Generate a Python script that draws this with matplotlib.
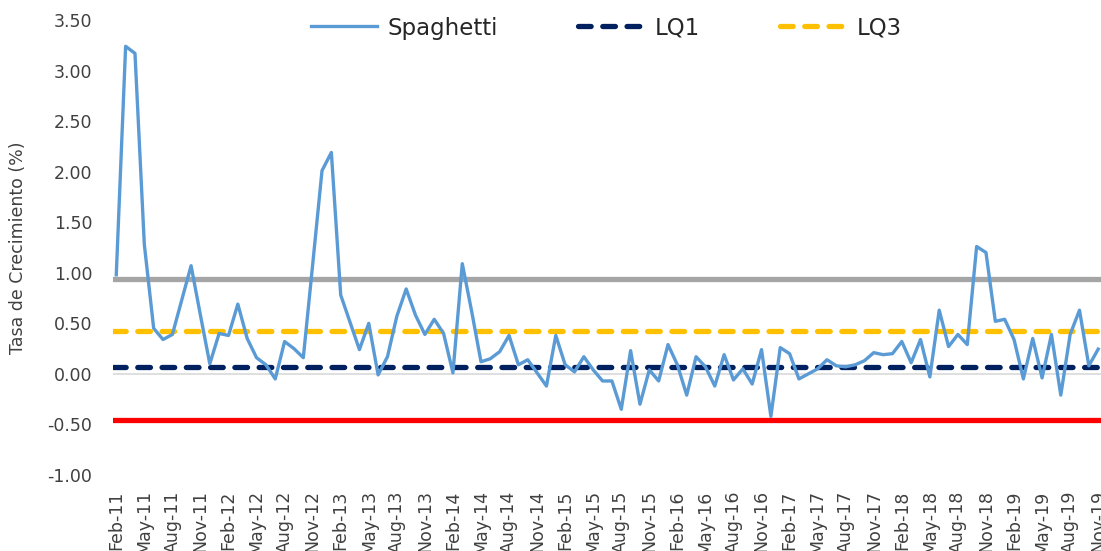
"""Tasa de crecimiento mensual del spaghetti con cuartiles y límites."""

import numpy as np
import pandas as pd
import matplotlib
matplotlib.use('Agg')
import matplotlib.pyplot as plt

# =========================================================================
# DATOS
# =========================================================================

meses = pd.date_range('2011-02-01', periods=106, freq='MS')
spaghetti = [
    0.98, 3.24, 3.17, 1.28, 0.45, 0.34, 0.39, 0.73, 1.07, 0.58,
    0.10, 0.40, 0.38, 0.69, 0.35, 0.16, 0.09, -0.05, 0.32, 0.25,
    0.16, 1.08, 2.01, 2.19, 0.78, 0.51, 0.24, 0.50, -0.01, 0.17,
    0.57, 0.84, 0.58, 0.39, 0.54, 0.40, 0.01, 1.09, 0.62, 0.12,
    0.15, 0.22, 0.38, 0.09, 0.14, 0.01, -0.12, 0.38, 0.09, 0.02,
    0.17, 0.04, -0.07, -0.07, -0.35, 0.23, -0.30, 0.04, -0.07, 0.29,
    0.09, -0.21, 0.17, 0.07, -0.12, 0.19, -0.06, 0.05, -0.10, 0.24,
    -0.42, 0.26, 0.20, -0.05, 0.00, 0.05, 0.14, 0.08, 0.07, 0.09,
    0.13, 0.21, 0.19, 0.20, 0.32, 0.11, 0.34, -0.03, 0.63, 0.27,
    0.39, 0.29, 1.26, 1.20, 0.52, 0.54, 0.34, -0.05, 0.35, -0.04,
    0.39, -0.21, 0.39, 0.63, 0.08, 0.245,
]
lq1 = 0.07
lq3 = 0.42
lim_sup = 0.94
lim_inf = -0.455

y_ticks = [-1.0, -0.5, 0.0, 0.5, 1.0, 1.5, 2.0, 2.5, 3.0, 3.5]

# =========================================================================
# GRÁFICO
# =========================================================================

plt.rcParams['font.family'] = ['DejaVu Sans']

fig = plt.figure(figsize=(11.01, 5.51), dpi=100)
ax = fig.add_axes([113 / 1101, 76 / 551, 1 - 113 / 1101, 455 / 551])

x = np.arange(len(spaghetti))

# límites (sin leyenda)
ax.axhline(0, color='#D9D9D9', lw=1.2, zorder=1)
ax.axhline(lim_sup, color='#A5A5A5', lw=3.8, solid_capstyle='round', zorder=2)
ax.axhline(lim_inf, color='#FF0000', lw=3.8, solid_capstyle='round', zorder=2)

ln_s, = ax.plot(x, spaghetti, color='#5B9BD5', lw=2.4, zorder=4, label='Spaghetti')
ln_1 = ax.axhline(lq1, color='#002060', lw=3.8, dashes=(2.4, 2.2),
                  dash_capstyle='round', zorder=3, label='LQ1')
ln_3 = ax.axhline(lq3, color='#FFC000', lw=3.8, dashes=(2.4, 2.2),
                  dash_capstyle='round', zorder=3, label='LQ3')

ax.set_xlim(-0.35, 105.3)
ax.set_ylim(-1.0, 3.5)

ax.set_yticks(y_ticks)
ax.set_yticklabels([f'{v:.2f}' for v in y_ticks], fontsize=12.5, color='#404040')
ticks_x = x[::3]
ax.set_xticks(ticks_x)
ax.set_xticklabels([meses[i].strftime('%b-%y') for i in ticks_x],
                   rotation=90, fontsize=12.5, color='#404040')
ax.tick_params(axis='y', length=0, pad=15)
ax.tick_params(axis='x', length=0, pad=11)

for s in ax.spines.values():
    s.set_visible(False)

fig.text(18 / 1101, 1 - 248 / 551, 'Tasa de Crecimiento (%)', rotation=90,
         ha='center', va='center', fontsize=12.5, color='#404040')

fig.legend(handles=[ln_s, ln_1, ln_3], loc='center',
           bbox_to_anchor=(606 / 1101, 1 - 28 / 551), ncol=3, frameon=False,
           fontsize=16.5, handlelength=2.9, handletextpad=0.44, columnspacing=3.5,
           labelcolor='#262626')

fig.savefig('out.png', dpi=100)
